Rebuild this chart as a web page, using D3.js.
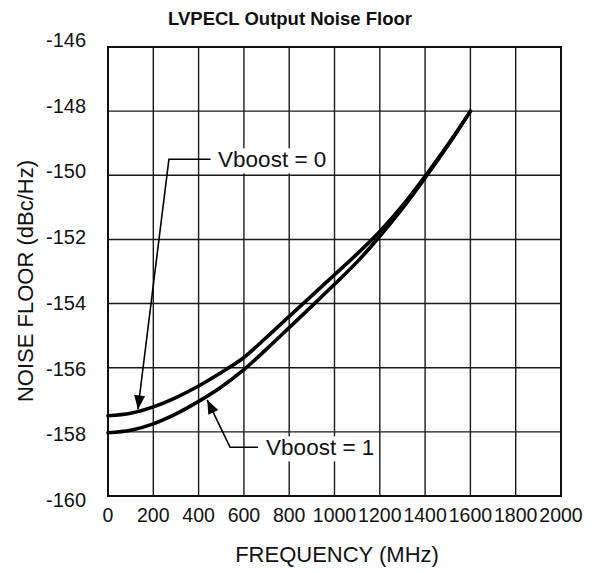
<html>
<head>
<meta charset="utf-8">
<title>LVPECL Output Noise Floor</title>
<script src="https://d3js.org/d3.v7.min.js"></script>
<style>
  body { margin: 0; background: #fff; }
  text { font-family: "Liberation Sans", Arial, sans-serif; fill: #111; }
</style>
</head>
<body>
<svg width="596" height="573"></svg>
<script>
// frequency (MHz) and noise floor (dBc/Hz)
var freqs   = [0, 100, 200, 300, 400, 500, 600, 700, 800, 900, 1000, 1100, 1200, 1300, 1400, 1500, 1600];
var vboost0 = [-157.5, -157.42, -157.22, -156.93, -156.57, -156.15, -155.68, -155.05, -154.4, -153.75, -153.1, -152.45, -151.75, -150.95, -150.03, -149.05, -148.0];
var vboost1 = [-158.03, -157.95, -157.75, -157.44, -157.05, -156.6, -156.06, -155.42, -154.75, -154.08, -153.4, -152.7, -151.9, -151.03, -150.08, -149.08, -148.0];

var xTicks = [0, 200, 400, 600, 800, 1000, 1200, 1400, 1600, 1800, 2000];
var yTicks = [-146, -148, -150, -152, -154, -156, -158, -160];

// callouts: label, arrow tip, elbow, end of leader, text start (data units)
var callouts = [
  {label: "Vboost = 0", tip: [132, -157.3], elbow: [269, -149.5], end: [453, -149.5], text: 486},
  {label: "Vboost = 1", tip: [438, -157.0], elbow: [539, -158.48], end: [662, -158.48], text: 698}
];

var svg = d3.select("svg"),
    margin = {top: 47, right: 35, bottom: 77, left: 108},
    width = +svg.attr("width") - margin.left - margin.right,
    height = +svg.attr("height") - margin.top - margin.bottom;

var x = d3.scaleLinear().domain([0, 2000]).range([margin.left, margin.left + width]);
var y = d3.scaleLinear().domain([-160, -146]).range([margin.top + height, margin.top]);
// tick labels sit on a slightly stretched scale in the original
var yLab = d3.scaleLinear().domain([-146, -160]).range([40, 500]);

// grid
svg.append("g").selectAll("line").data(xTicks).enter().append("line")
    .attr("x1", d => x(d)).attr("x2", d => x(d))
    .attr("y1", y(-160)).attr("y2", y(-146))
    .attr("stroke", "#1a1a1a").attr("stroke-width", 1.4);
svg.append("g").selectAll("line").data(yTicks).enter().append("line")
    .attr("x1", x(0)).attr("x2", x(2000))
    .attr("y1", d => y(d)).attr("y2", d => y(d))
    .attr("stroke", "#1a1a1a").attr("stroke-width", 1.4);
svg.append("rect")
    .attr("x", x(0)).attr("y", y(-146))
    .attr("width", x(2000) - x(0)).attr("height", y(-160) - y(-146))
    .attr("fill", "none").attr("stroke", "#111").attr("stroke-width", 2);

// tick labels
svg.append("g").selectAll("text").data(xTicks).enter().append("text")
    .attr("x", d => x(d)).attr("y", 522)
    .attr("text-anchor", "middle").style("font-size", "19.5px")
    .text(d => d);
svg.append("g").selectAll("text").data(yTicks).enter().append("text")
    .attr("x", 86).attr("y", d => yLab(d)).attr("dy", "0.35em")
    .attr("text-anchor", "end").style("font-size", "20px")
    .text(d => d);

// axis titles
svg.append("text")
    .attr("x", 337).attr("y", 562)
    .attr("text-anchor", "middle").style("font-size", "22px")
    .text("FREQUENCY (MHz)");
svg.append("text")
    .attr("transform", "translate(33,281) rotate(-90)")
    .attr("text-anchor", "middle").style("font-size", "22px")
    .text("NOISE FLOOR (dBc/Hz)");
svg.append("text")
    .attr("x", 290).attr("y", 25)
    .attr("text-anchor", "middle").style("font-size", "18.5px").style("font-weight", "bold")
    .text("LVPECL Output Noise Floor");

// curves
var line = d3.line()
    .x((d, i) => x(freqs[i]))
    .y(d => y(d))
    .curve(d3.curveCatmullRom);
[vboost0, vboost1].forEach(function(s) {
  svg.append("path")
      .attr("d", line(s))
      .attr("fill", "none")
      .attr("stroke", "#000")
      .attr("stroke-width", 3.6)
      .attr("stroke-linecap", "round");
});

// callouts
callouts.forEach(function(c) {
  var g = svg.append("g");
  var tx = x(c.text), ty = y(c.end[1]);
  var lbl = g.append("text")
      .attr("x", tx).attr("y", ty).attr("dy", "0.36em")
      .style("font-size", "22.5px")
      .text(c.label);
  var bb = lbl.node().getBBox();
  g.insert("rect", "text")
      .attr("x", bb.x - 4).attr("y", bb.y + 1)
      .attr("width", bb.width + 8).attr("height", bb.height)
      .attr("fill", "#fff");

  var tip = [x(c.tip[0]), y(c.tip[1])],
      el = [x(c.elbow[0]), y(c.elbow[1])],
      en = [x(c.end[0]), y(c.end[1])];
  g.append("polyline")
      .attr("points", [en, el, tip].map(p => p.join(",")).join(" "))
      .attr("fill", "none").attr("stroke", "#000").attr("stroke-width", 1.6);

  // arrow head
  var dx = tip[0] - el[0], dy = tip[1] - el[1], len = Math.hypot(dx, dy);
  var ux = dx / len, uy = dy / len, L = 14, W = 5.5;
  var bx = tip[0] - ux * L, by = tip[1] - uy * L;
  g.append("path")
      .attr("d", `M${tip[0]},${tip[1]}L${bx - uy * W},${by + ux * W}L${bx + uy * W},${by - ux * W}Z`)
      .attr("fill", "#000");
});
</script>
</body>
</html>
